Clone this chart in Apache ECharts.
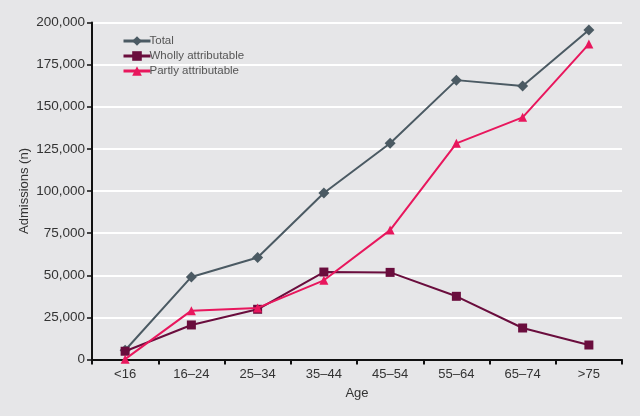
<!DOCTYPE html>
<html><head><meta charset="utf-8">
<script src="https://cdn.jsdelivr.net/npm/echarts@6/dist/echarts.min.js"></script>
<style>html,body{margin:0;padding:0;background:#e6e6e8;}#c{width:640px;height:416px;}</style>
</head><body><div id="c"></div>
<script>
const categories = ['<16','16\u201324','25\u201334','35\u201344','45\u201354','55\u201364','65\u201374','>75'];
const total = [5500, 49000, 60500, 98800, 128300, 165800, 162300, 195500];
const wholly = [4900, 20500, 29800, 51900, 51700, 37500, 18700, 8600];
const partly = [200, 29000, 30600, 47000, 76800, 128300, 143700, 187200];
const yTicks = [0, 25000, 50000, 75000, 100000, 125000, 150000, 175000, 200000];

const chart = echarts.init(document.getElementById('c'));
const font = 'Liberation Sans, Arial, sans-serif';
chart.setOption({
  backgroundColor: '#e6e6e8',
  animation: false,
  textStyle: {fontFamily: font},
  grid: {left: 92, right: 18, top: 22.5, bottom: 56.5},
  legend: {
    orient: 'vertical', left: 117, top: 30, itemGap: 3, itemWidth: 27, itemHeight: 12,
    lineStyle: {width: 3},
    textStyle: {fontSize: 11.5, color: '#555', fontFamily: font, padding: [0,0,0,-6]},
    data: ['Total','Wholly attributable','Partly attributable']
  },
  xAxis: {
    type: 'category', data: categories, boundaryGap: true,
    name: 'Age', nameLocation: 'middle', nameGap: 27,
    nameTextStyle: {fontSize: 13, color: '#333', fontFamily: font},
    axisLine: {lineStyle: {color: '#111', width: 2}},
    axisTick: {show: true, length: 5, lineStyle: {color: '#111', width: 2}, alignWithLabel: false},
    axisLabel: {fontSize: 13, color: '#333', margin: 8, fontFamily: font}
  },
  yAxis: {
    type: 'value', min: 0, max: 200000, interval: 25000,
    name: 'Admissions (n)', nameLocation: 'middle', nameGap: 61, nameRotate: 90,
    nameMoveOverlap: false,
    nameTextStyle: {fontSize: 13, color: '#333', fontFamily: font},
    axisLine: {show: true, lineStyle: {color: '#111', width: 2}},
    axisTick: {show: true, length: 5, lineStyle: {color: '#111', width: 1.5}},
    splitLine: {lineStyle: {color: '#ffffff', width: 2}},
    axisLabel: {fontSize: 13.5, color: '#333', margin: 7, fontFamily: font,
      formatter: v => yTicks.includes(v) ? v.toLocaleString('en-US') : ''}
  },
  series: [
    {name: 'Total', type: 'line', data: total, symbol: 'diamond', symbolSize: 11,
     itemStyle: {color: '#4b5a63'}, lineStyle: {color: '#4b5a63', width: 2}, z: 3},
    {name: 'Wholly attributable', type: 'line', data: wholly, symbol: 'rect', symbolSize: 9,
     itemStyle: {color: '#6a0d3d'}, lineStyle: {color: '#6a0d3d', width: 2}, z: 4},
    {name: 'Partly attributable', type: 'line', data: partly, symbol: 'triangle', symbolSize: 9,
     itemStyle: {color: '#e8175d'}, lineStyle: {color: '#e8175d', width: 2}, z: 5}
  ]
});
</script></body></html>
